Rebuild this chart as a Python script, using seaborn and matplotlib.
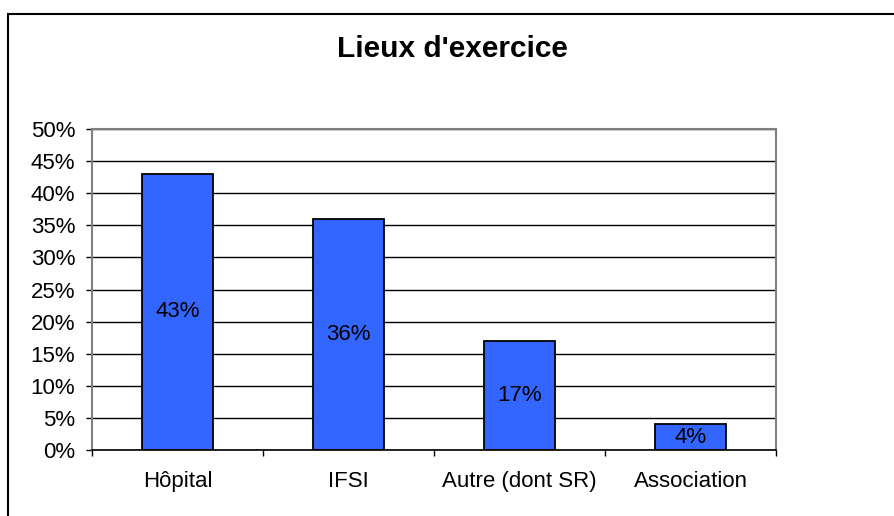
import matplotlib
matplotlib.use("Agg")
import matplotlib.pyplot as plt
import matplotlib.patches as mpatches
from matplotlib.ticker import FixedLocator, PercentFormatter
import seaborn as sns
import pandas as pd

categories = ["Hôpital", "IFSI", "Autre (dont SR)", "Association"]
values = [43, 36, 17, 4]
bar_labels = ["43%", "36%", "17%", "4%"]
title = "Lieux d'exercice"

sns.set_theme(style="white")
plt.rcParams["font.family"] = ["Liberation Sans", "DejaVu Sans"]

fig = plt.figure(figsize=(8.94, 5.16), dpi=100)
ax = fig.add_axes([92 / 894, 1 - 450 / 516, (776 - 92) / 894, (450 - 129) / 516])

df = pd.DataFrame({"cat": categories, "val": values})
sns.barplot(data=df, x="cat", y="val", color="#3366FF", saturation=1,
            width=0.41, edgecolor="black", linewidth=1.3, ax=ax, zorder=3)

for i, (v, lab) in enumerate(zip(values, bar_labels)):
    ax.text(i, v / 2, lab, ha="center", va="center", fontsize=16,
            color="black", zorder=4)

ax.set_xlim(-0.5, len(categories) - 0.5)
ax.set_ylim(0, 50)
ax.yaxis.set_major_locator(FixedLocator(range(0, 51, 5)))
ax.yaxis.set_major_formatter(PercentFormatter(decimals=0))
ax.set_xlabel("")
ax.set_ylabel("")

ax.set_axisbelow(True)
ax.yaxis.grid(True, color="black", linewidth=1)
ax.xaxis.grid(False)

for s in ["top", "right", "left"]:
    ax.spines[s].set_visible(True)
    ax.spines[s].set_color("#808080")
    ax.spines[s].set_linewidth(1.5)
    ax.spines[s].set_zorder(5)
ax.spines["bottom"].set_color("black")
ax.spines["bottom"].set_linewidth(1.2)
ax.spines["bottom"].set_zorder(5)

ax.tick_params(axis="y", which="major", left=True, length=4, width=1,
               color="black", pad=8, labelsize=16, labelcolor="black")
ax.tick_params(axis="x", which="major", bottom=False, length=0, pad=15,
               labelsize=16, labelcolor="black")
ax.xaxis.set_minor_locator(FixedLocator([i - 0.5 for i in range(len(categories) + 1)]))
ax.tick_params(axis="x", which="minor", bottom=True, length=4, width=1,
               color="black")

fig.text(452.5 / 894, 1 - 57 / 516, title, ha="center", va="baseline",
         fontsize=21.5, fontweight="bold", color="black")

border = mpatches.Rectangle((8 / 894, -0.1), 1.2, (1 - 14 / 516) + 0.1,
                            transform=fig.transFigure, fill=False,
                            edgecolor="black", linewidth=1.5, zorder=10)
fig.patches.append(border)

fig.savefig("out.png", dpi=100)
